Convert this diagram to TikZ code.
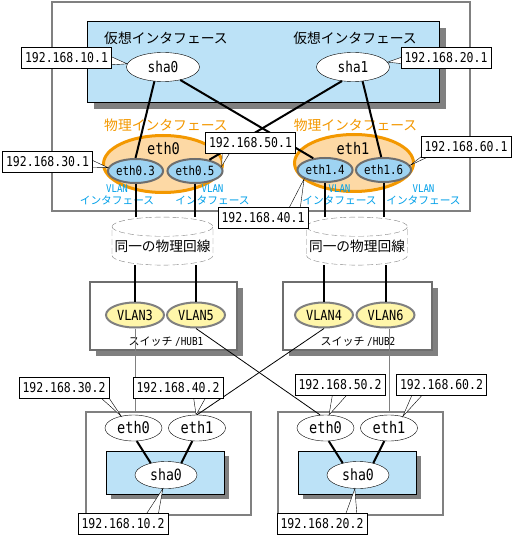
\documentclass[tikz,border=0pt]{standalone}
\usepackage{fontspec}
\setmainfont{Noto Sans CJK JP}
\newfontfamily\asciifont[FakeStretch=0.85]{DejaVu Sans Mono}
\usepackage{xcolor}
\usetikzlibrary{shapes.geometric,shadows}

\definecolor{virtblue}{RGB}{188,226,247}
\definecolor{vlanblue}{RGB}{158,211,242}
\definecolor{physorange}{RGB}{243,152,0}
\definecolor{physfill}{RGB}{253,217,165}
\definecolor{portyellow}{RGB}{255,246,170}
\definecolor{vlantext}{RGB}{0,160,233}
\definecolor{framegray}{RGB}{128,128,128}
\definecolor{rimgray}{RGB}{110,110,110}
\newcommand{\fsz}[1]{\fontsize{#1}{#1}\selectfont}

\begin{document}
\begin{tikzpicture}[x=1pt,y=-1pt,
    ipbox/.style={draw, fill=white, minimum width=90pt, minimum height=21pt, inner sep=0pt, font=\asciifont\fsz{13.5}},
    virtif/.style={ellipse, draw, fill=white, minimum width=73pt, minimum height=29pt, inner sep=0pt, font=\asciifont\fsz{15}},
    physif/.style={ellipse, draw=physorange, line width=3pt, fill=physfill, minimum width=119pt, minimum height=57pt},
    vlanif/.style={ellipse, draw=rimgray, line width=2pt, fill=vlanblue, minimum width=54pt, minimum height=24pt, inner sep=0pt, font=\asciifont\fsz{12.7}},
    vlanport/.style={ellipse, draw=gray, line width=2pt, fill=portyellow, minimum width=58pt, minimum height=25pt, inner sep=0pt, font=\asciifont\fsz{14}},
    cliface/.style={ellipse, draw, fill=white, minimum width=57pt, minimum height=26pt, inner sep=0pt, font=\asciifont\fsz{16}},
    clisha/.style={ellipse, draw, fill=white, minimum width=62pt, minimum height=27pt, inner sep=0pt, font=\asciifont\fsz{15.5}},
    framebox/.style={draw=framegray, line width=1.5pt, fill=white, inner sep=0pt},
    shadowbox/.style={draw, inner sep=0pt, drop shadow={shadow xshift=#1, shadow yshift=-#1, fill=framegray, opacity=1}},
    shadowbox/.default=6pt,
    vlantag/.style={text=vlantext, align=center, inner sep=0pt, font=\fontsize{10.7}{12}\selectfont},
    cable/.style={cylinder, shape border rotate=90, draw=framegray, dash pattern=on 6pt off 3pt, aspect=0.2, minimum width=101pt, minimum height=48pt, inner sep=0pt, font=\fsz{13.7}},
    wire/.style={line width=2pt},
    thinwire/.style={line width=0.8pt},
    grayline/.style={draw=framegray, line width=1pt}
]
\useasboundingbox (0,0) rectangle (514,537);
% server with the two virtual interfaces
\node[framebox, minimum width=418pt, minimum height=209pt] at (261,106.5) (server) {};
\node[shadowbox=7pt, fill=virtblue, minimum width=352pt, minimum height=81pt] at (263,61.5) (virt) {};
\node[font=\fsz{13.8}] at (166,38) (virtlbl0) {仮想インタフェース};
\node[font=\fsz{13.8}] at (355,38) (virtlbl1) {仮想インタフェース};
\node[virtif] at (163,67) (sha0) {sha0};
\node[virtif] at (353,67) (sha1) {sha1};
% physical interfaces
\node[font=\fsz{13.8}, text=physorange] at (166,125) (physlbl0) {物理インタフェース};
\node[font=\fsz{13.8}, text=physorange] at (355.5,125) (physlbl1) {物理インタフェース};
\node[physif] at (163,164) (eth0) {};
\node[physif] at (354,163) (eth1) {};
\node[font=\asciifont\fsz{16}] at (163.5,149) (eth0lbl) {eth0};
\node[font=\asciifont\fsz{16}] at (353,149) (eth1lbl) {eth1};
\node[vlanif] at (135.5,171) (eth03) {eth0.3};
\node[vlanif] at (195,171) (eth05) {eth0.5};
\node[vlanif] at (325,170) (eth14) {eth1.4};
\node[vlanif] at (383.5,170) (eth16) {eth1.6};
% wires from sha to the vlan interfaces
\foreach \a/\b in {sha0.239/eth03.north, sha0.323/eth14.135, sha1.232/eth05.38, sha1.304/eth16.100}
    \draw[wire] (\a) -- (\b);
\foreach \x/\nm in {117/vtag0, 212.5/vtag1, 339.5/vtag2, 423.5/vtag3}
    \node[vlantag] at (\x,195) (\nm) {{\asciifont VLAN}\\インタフェース};
% lines and switches
\node[cable] at (162.5,246) (line0) {同一の物理回線};
\node[cable] at (357,246) (line1) {同一の物理回線};
\node[shadowbox, framebox, draw=rimgray, minimum width=147pt, minimum height=68pt] at (163.5,316) (hub1) {};
\node[shadowbox, framebox, draw=rimgray, minimum width=149pt, minimum height=68pt] at (357.5,316) (hub2) {};
\node[vlanport] at (135,315) (vlan3) {VLAN3};
\node[vlanport] at (196,315) (vlan5) {VLAN5};
\node[vlanport] at (324,315) (vlan4) {VLAN4};
\node[vlanport] at (385.5,315) (vlan6) {VLAN6};
\node[font=\fsz{11}] at (166,342) (hub1lbl) {スイッチ {\asciifont /HUB1}};
\node[font=\fsz{11}] at (358,342) (hub2lbl) {スイッチ {\asciifont /HUB2}};
\foreach \e/\v/\c in {eth03/vlan3/line0, eth05/vlan5/line0, eth14/vlan4/line1, eth16/vlan6/line1} {
    \draw[wire] (\e.south) -- (\e.south |- \c.north);
    \draw[wire] (\v.north |- \c.south) -- (\v.north);
}
% the two clients
\foreach \k/\dx in {1/0, 2/192} {
    \node[framebox, minimum width=165pt, minimum height=103pt] at (168.5+\dx,463.5) (c\k-box) {};
    \node[shadowbox=5pt, fill=virtblue, minimum width=118pt, minimum height=43pt] at (165+\dx,472.5) (c\k-lan) {};
    \node[cliface] at (133.5+\dx,428) (c\k-eth0) {eth0};
    \node[cliface] at (197+\dx,428) (c\k-eth1) {eth1};
    \node[clisha] at (166+\dx,475) (c\k-sha0) {sha0};
    \draw[wire] (c\k-eth0.284) -- (c\k-sha0.142);
    \draw[wire] (c\k-eth1.250) -- (c\k-sha0.38);
}
\draw[grayline] (vlan3.south) -- (vlan3.south |- c1-box.north);
\draw[grayline] (vlan6.south -| c2-eth1.north) -- (c2-eth1.north |- c2-box.north);
\draw[thinwire] (vlan5.south) -- (c2-eth0.112);
\draw[thinwire] (vlan4.south) -- (c1-eth1.north);
% address callouts
\foreach \nm/\cx/\cy/\ip/\tip/\ax/\ay/\bx/\by in {
    ip101/66.5/58/192.168.10.1/sha0.175/41/-3/41/7,
    ip201/446/58/192.168.20.1/sha1.8/-41/-2/-41/6,
    ip301/47.5/161.5/192.168.30.1/eth03.173/41/-3/41/6,
    ip501/250.5/143/192.168.50.1/eth05.10/-28/7/-19/7,
    ip601/466/147/192.168.60.1/eth16.10/-40/6/-34/8,
    ip401/263/218/192.168.40.1/eth14.203/25/-8/37/-8,
    ip302/64/387.5/192.168.30.2/c1-eth0.136/32/6/42/6,
    ip402/178/387.5/192.168.40.2/c1-eth1.94/15/6/30/6,
    ip502/340/384.5/192.168.50.2/c2-eth0.75/-7/7/10/7,
    ip602/441.5/384.5/192.168.60.2/c2-eth1.40/-28/7/-16/7,
    ip102/123/524/192.168.10.2/c1-sha0.257/22/-8/35/-8,
    ip202/322/524/192.168.20.2/c2-sha0.257/23/-8/35/-8} {
    \draw[fill=white] (\cx+\ax,\cy+\ay) -- (\tip) -- (\cx+\bx,\cy+\by);
    \node[ipbox] at (\cx,\cy) (\nm) {\ip};
}
\end{tikzpicture}
\end{document}
